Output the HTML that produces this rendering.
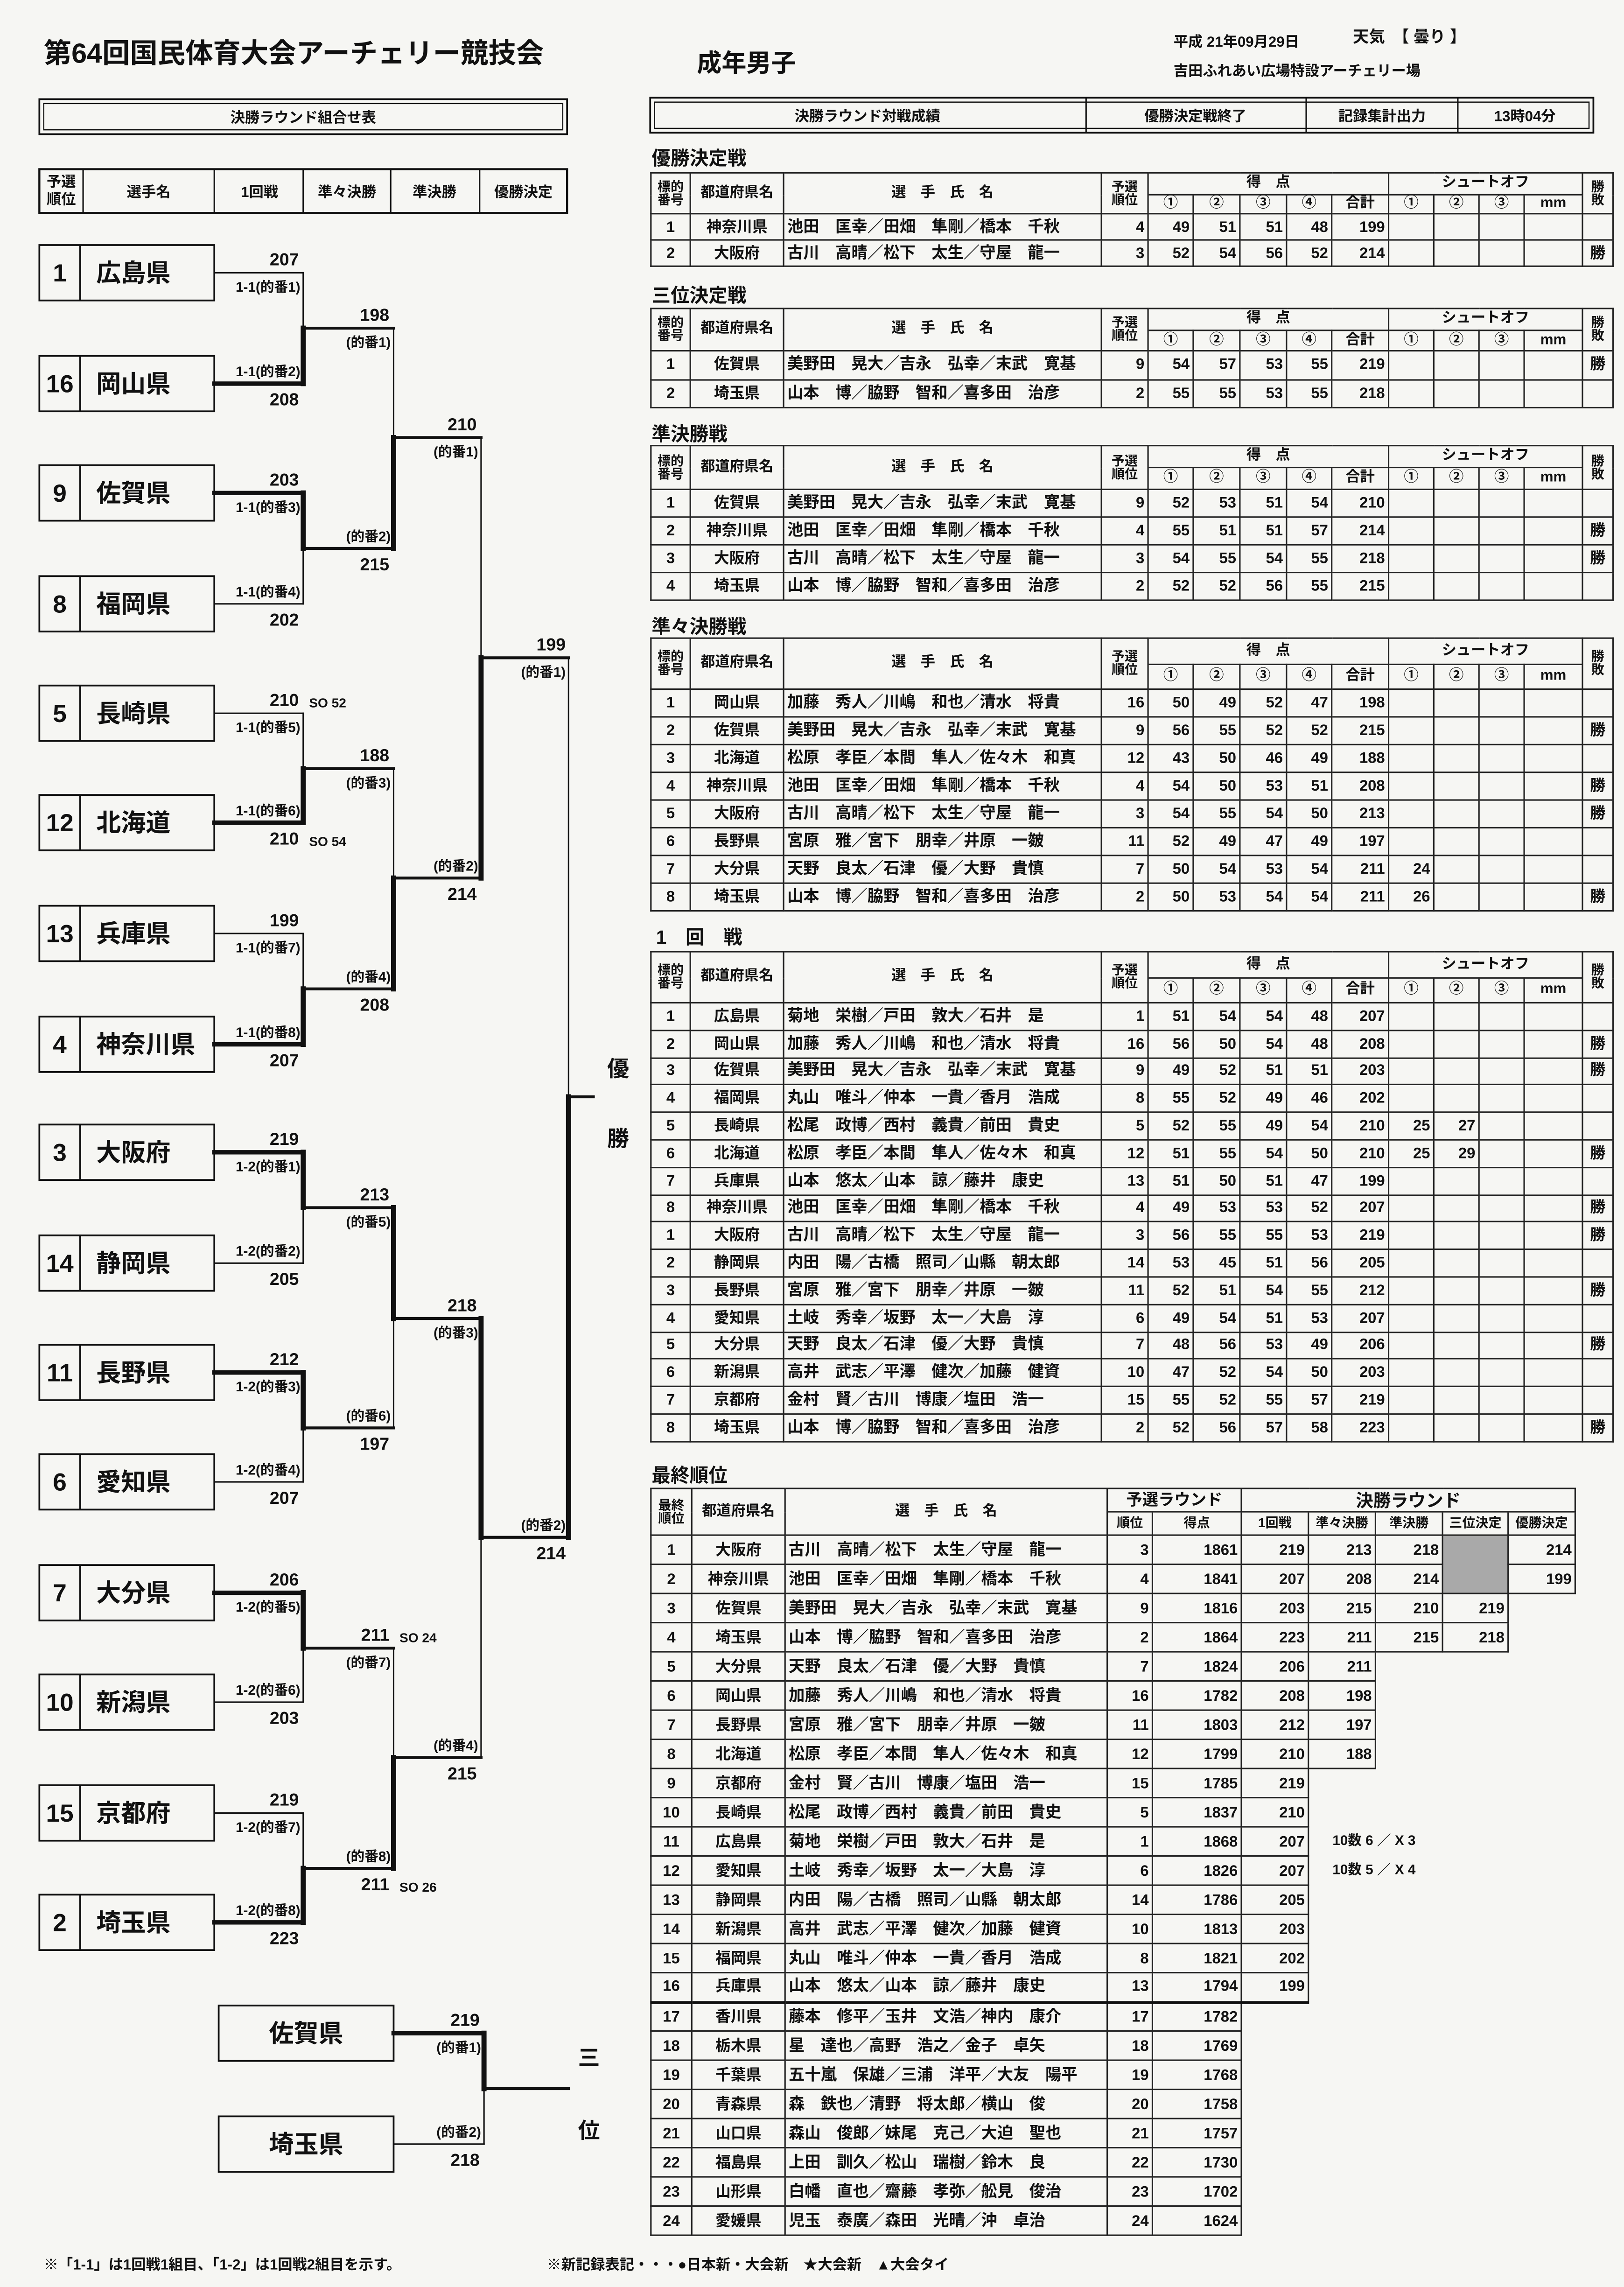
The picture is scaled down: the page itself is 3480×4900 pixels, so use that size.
<!DOCTYPE html>
<html><head><meta charset="utf-8">
<style>
html,body{margin:0;padding:0;background:#f6f6f3;}
body{width:3480px;height:4900px;overflow:hidden;position:relative;}
#p{position:absolute;left:0;top:0;width:1114px;height:1568px;transform:scale(3.1239,3.125);transform-origin:0 0;font-family:"Liberation Sans","Noto Sans CJK JP",sans-serif;color:#111;}
.a{position:absolute;white-space:nowrap;}
.ttl{font-size:13px;font-weight:bold;}
table.t{position:absolute;left:446px;border-collapse:collapse;table-layout:fixed;font-size:10.5px;line-height:10px;border:1.6px solid #111;}
.t td,.t th{border:1px solid #222;padding:0 2px;white-space:nowrap;overflow:visible;font-weight:bold;text-align:right;}
.t th{text-align:center;font-size:10px;line-height:10px;}
.t th.s{font-size:9px;line-height:9px;}
.t td:nth-child(1),.t td:nth-child(2){text-align:center;}
.t td:nth-child(3){text-align:left;font-size:11px;}
.t td:nth-child(14){text-align:center;}
.t td.n{border:none;}
.t td.g{background:#a9a9a9;}
.t td.nt{text-align:left;padding-left:16px;font-size:9.5px;}
.t tr.tb td{border-bottom:2px solid #111;}
.t tr.tb td.n{border-bottom:none;}
svg text{font-family:"Liberation Sans","Noto Sans CJK JP",sans-serif;}
</style></head><body><div id="p">

<div class="a" style="left:30px;top:22px;font-size:19px;font-weight:bold;">第64回国民体育大会アーチェリー競技会</div>
<div class="a" style="left:478px;top:29px;font-size:17px;font-weight:bold;">成年男子</div>
<div class="a" style="left:805px;top:20px;font-size:10px;font-weight:bold;">平成 21年09月29日</div>
<div class="a" style="left:928px;top:17px;font-size:11px;font-weight:bold;">天気　【 曇り 】</div>
<div class="a" style="left:805px;top:40px;font-size:10px;font-weight:bold;">吉田ふれあい広場特設アーチェリー場</div>

<svg class="a" style="left:0;top:0" width="1114" height="1568" viewBox="0 0 1114 1568">
<g fill="none" stroke="#111">
<rect x="27" y="68" width="362" height="24" stroke-width="1.2"/>
<rect x="30" y="71" width="356" height="18" stroke-width="0.8"/>
<rect x="446" y="67" width="647" height="24" stroke-width="1.2"/>
<rect x="449" y="70" width="641" height="18" stroke-width="0.8"/>
<line x1="745" y1="67" x2="745" y2="91"/><line x1="896" y1="67" x2="896" y2="91"/><line x1="1000" y1="67" x2="1000" y2="91"/>
<rect x="27" y="116" width="362" height="30" stroke-width="1.4"/>
<line x1="57" y1="116" x2="57" y2="146"/><line x1="147" y1="116" x2="147" y2="146"/><line x1="208" y1="116" x2="208" y2="146"/><line x1="268" y1="116" x2="268" y2="146"/><line x1="329" y1="116" x2="329" y2="146"/>
</g>
<g font-size="10" font-weight="bold" text-anchor="middle" fill="#111">
<text x="208" y="84">決勝ラウンド組合せ表</text>
<text x="595" y="83">決勝ラウンド対戦成績</text>
<text x="820" y="83">優勝決定戦終了</text>
<text x="948" y="83">記録集計出力</text>
<text x="1046" y="83">13時04分</text>
<text x="42" y="128">予選</text><text x="42" y="140">順位</text>
<text x="102" y="135">選手名</text><text x="178" y="135">1回戦</text><text x="238" y="135">準々決勝</text><text x="298" y="135">準決勝</text><text x="359" y="135">優勝決定</text>
</g>

<g fill="none" stroke="#111" stroke-width="1.2">
<rect x="27" y="168" width="120" height="38"/><line x1="55" y1="168" x2="55" y2="206"/>
<rect x="27" y="244" width="120" height="38"/><line x1="55" y1="244" x2="55" y2="282"/>
<rect x="27" y="319" width="120" height="38"/><line x1="55" y1="319" x2="55" y2="357"/>
<rect x="27" y="395" width="120" height="38"/><line x1="55" y1="395" x2="55" y2="433"/>
<rect x="27" y="470" width="120" height="38"/><line x1="55" y1="470" x2="55" y2="508"/>
<rect x="27" y="545" width="120" height="38"/><line x1="55" y1="545" x2="55" y2="583"/>
<rect x="27" y="621" width="120" height="38"/><line x1="55" y1="621" x2="55" y2="659"/>
<rect x="27" y="697" width="120" height="38"/><line x1="55" y1="697" x2="55" y2="735"/>
<rect x="27" y="771" width="120" height="38"/><line x1="55" y1="771" x2="55" y2="809"/>
<rect x="27" y="847" width="120" height="38"/><line x1="55" y1="847" x2="55" y2="885"/>
<rect x="27" y="922" width="120" height="38"/><line x1="55" y1="922" x2="55" y2="960"/>
<rect x="27" y="997" width="120" height="38"/><line x1="55" y1="997" x2="55" y2="1035"/>
<rect x="27" y="1073" width="120" height="38"/><line x1="55" y1="1073" x2="55" y2="1111"/>
<rect x="27" y="1148" width="120" height="38"/><line x1="55" y1="1148" x2="55" y2="1186"/>
<rect x="27" y="1224" width="120" height="38"/><line x1="55" y1="1224" x2="55" y2="1262"/>
<rect x="27" y="1299" width="120" height="38"/><line x1="55" y1="1299" x2="55" y2="1337"/>
<rect x="150" y="1375" width="120" height="38"/>
<rect x="150" y="1451" width="120" height="38"/>
</g>
<g font-size="17" font-weight="bold" fill="#111">
<g text-anchor="middle">
<text x="41" y="193">1</text><text x="41" y="269">16</text><text x="41" y="344">9</text><text x="41" y="420">8</text>
<text x="41" y="495">5</text><text x="41" y="570">12</text><text x="41" y="646">13</text><text x="41" y="722">4</text>
<text x="41" y="796">3</text><text x="41" y="872">14</text><text x="41" y="947">11</text><text x="41" y="1022">6</text>
<text x="41" y="1098">7</text><text x="41" y="1173">10</text><text x="41" y="1249">15</text><text x="41" y="1324">2</text>
<text x="210" y="1400">佐賀県</text><text x="210" y="1476">埼玉県</text>
</g>
<text x="66" y="193">広島県</text><text x="66" y="269">岡山県</text><text x="66" y="344">佐賀県</text><text x="66" y="420">福岡県</text>
<text x="66" y="495">長崎県</text><text x="66" y="570">北海道</text><text x="66" y="646">兵庫県</text><text x="66" y="722">神奈川県</text>
<text x="66" y="796">大阪府</text><text x="66" y="872">静岡県</text><text x="66" y="947">長野県</text><text x="66" y="1022">愛知県</text>
<text x="66" y="1098">大分県</text><text x="66" y="1173">新潟県</text><text x="66" y="1249">京都府</text><text x="66" y="1324">埼玉県</text>
</g>

<g stroke="#111" fill="none" stroke-linecap="square">
<g stroke-width="1">
<line x1="147" y1="187" x2="208" y2="187"/><line x1="147" y1="414" x2="208" y2="414"/><line x1="147" y1="489" x2="208" y2="489"/>
<line x1="147" y1="640" x2="208" y2="640"/><line x1="147" y1="866" x2="208" y2="866"/><line x1="147" y1="1016" x2="208" y2="1016"/>
<line x1="147" y1="1167" x2="208" y2="1167"/><line x1="147" y1="1243" x2="208" y2="1243"/>
<line x1="208" y1="187" x2="208" y2="225"/><line x1="208" y1="376" x2="208" y2="414"/><line x1="208" y1="489" x2="208" y2="527"/>
<line x1="208" y1="640" x2="208" y2="678"/><line x1="208" y1="828" x2="208" y2="866"/><line x1="208" y1="979" x2="208" y2="1016"/>
<line x1="208" y1="1130" x2="208" y2="1167"/><line x1="208" y1="1243" x2="208" y2="1281"/>
<line x1="270" y1="225" x2="270" y2="300"/><line x1="270" y1="527" x2="270" y2="602"/><line x1="270" y1="904" x2="270" y2="979"/><line x1="270" y1="1130" x2="270" y2="1205"/>
<line x1="330" y1="300" x2="330" y2="451"/><line x1="330" y1="1054" x2="330" y2="1205"/>
<line x1="390" y1="451" x2="390" y2="752"/>
<line x1="332" y1="1432" x2="332" y2="1470"/>
<line x1="270" y1="1470" x2="332" y2="1470"/>
</g>
<g stroke-width="3">
<line x1="147" y1="263" x2="208" y2="263"/><line x1="147" y1="338" x2="208" y2="338"/><line x1="147" y1="564" x2="208" y2="564"/>
<line x1="147" y1="716" x2="208" y2="716"/><line x1="147" y1="790" x2="208" y2="790"/><line x1="147" y1="941" x2="208" y2="941"/>
<line x1="147" y1="1092" x2="208" y2="1092"/><line x1="147" y1="1318" x2="208" y2="1318"/>
<line x1="270" y1="1394" x2="332" y2="1394"/>
</g>
<g stroke-width="3.5">
<line x1="208" y1="225" x2="208" y2="263"/><line x1="208" y1="338" x2="208" y2="376"/><line x1="208" y1="527" x2="208" y2="564"/>
<line x1="208" y1="678" x2="208" y2="716"/><line x1="208" y1="790" x2="208" y2="828"/><line x1="208" y1="941" x2="208" y2="979"/>
<line x1="208" y1="1092" x2="208" y2="1130"/><line x1="208" y1="1281" x2="208" y2="1318"/>
<line x1="270" y1="300" x2="270" y2="376"/><line x1="270" y1="602" x2="270" y2="678"/><line x1="270" y1="828" x2="270" y2="904"/><line x1="270" y1="1205" x2="270" y2="1281"/>
<line x1="330" y1="451" x2="330" y2="602"/><line x1="330" y1="904" x2="330" y2="1054"/>
<line x1="390" y1="752" x2="390" y2="1054"/>
<line x1="332" y1="1394" x2="332" y2="1432"/>
</g>
<g stroke-width="2">
<line x1="208" y1="225" x2="270" y2="225"/><line x1="208" y1="376" x2="270" y2="376"/><line x1="208" y1="527" x2="270" y2="527"/><line x1="208" y1="678" x2="270" y2="678"/>
<line x1="208" y1="828" x2="270" y2="828"/><line x1="208" y1="979" x2="270" y2="979"/><line x1="208" y1="1130" x2="270" y2="1130"/><line x1="208" y1="1281" x2="270" y2="1281"/>
<line x1="270" y1="300" x2="330" y2="300"/><line x1="270" y1="602" x2="330" y2="602"/><line x1="270" y1="904" x2="330" y2="904"/><line x1="270" y1="1205" x2="330" y2="1205"/>
<line x1="330" y1="451" x2="390" y2="451"/><line x1="330" y1="1054" x2="390" y2="1054"/>
<line x1="390" y1="752" x2="407" y2="752"/>
<line x1="332" y1="1432" x2="390" y2="1432"/>
</g>
</g>

<g font-size="12" font-weight="bold" fill="#111" text-anchor="end">
<text x="205" y="182">207</text><text x="205" y="278">208</text>
<text x="205" y="333">203</text><text x="205" y="429">202</text>
<text x="205" y="484">210</text><text x="205" y="579">210</text>
<text x="205" y="635">199</text><text x="205" y="731">207</text>
<text x="205" y="785">219</text><text x="205" y="881">205</text>
<text x="205" y="936">212</text><text x="205" y="1031">207</text>
<text x="205" y="1087">206</text><text x="205" y="1182">203</text>
<text x="205" y="1238">219</text><text x="205" y="1333">223</text>
<text x="267" y="220">198</text><text x="267" y="391">215</text><text x="267" y="522">188</text><text x="267" y="693">208</text>
<text x="267" y="823">213</text><text x="267" y="994">197</text><text x="267" y="1125">211</text><text x="267" y="1296">211</text>
<text x="327" y="295">210</text><text x="327" y="617">214</text><text x="327" y="899">218</text><text x="327" y="1220">215</text>
<text x="388" y="446">199</text><text x="388" y="1069">214</text>
<text x="329" y="1389">219</text><text x="329" y="1485">218</text>
</g>
<g font-size="9" font-weight="bold" fill="#111">
<text x="212" y="485">SO 52</text><text x="212" y="580">SO 54</text>
<text x="274" y="1126">SO 24</text><text x="274" y="1297">SO 26</text>
</g>
<g font-size="9.5" font-weight="bold" fill="#111" text-anchor="end">
<text x="206" y="200">1-1(的番1)</text><text x="206" y="258">1-1(的番2)</text>
<text x="206" y="351">1-1(的番3)</text><text x="206" y="409">1-1(的番4)</text>
<text x="206" y="502">1-1(的番5)</text><text x="206" y="559">1-1(的番6)</text>
<text x="206" y="653">1-1(的番7)</text><text x="206" y="711">1-1(的番8)</text>
<text x="206" y="803">1-2(的番1)</text><text x="206" y="861">1-2(的番2)</text>
<text x="206" y="954">1-2(的番3)</text><text x="206" y="1011">1-2(的番4)</text>
<text x="206" y="1105">1-2(的番5)</text><text x="206" y="1162">1-2(的番6)</text>
<text x="206" y="1256">1-2(的番7)</text><text x="206" y="1313">1-2(的番8)</text>
<text x="268" y="238">(的番1)</text><text x="268" y="371">(的番2)</text><text x="268" y="540">(的番3)</text><text x="268" y="673">(的番4)</text>
<text x="268" y="841">(的番5)</text><text x="268" y="974">(的番6)</text><text x="268" y="1143">(的番7)</text><text x="268" y="1276">(的番8)</text>
<text x="328" y="313">(的番1)</text><text x="328" y="597">(的番2)</text><text x="328" y="917">(的番3)</text><text x="328" y="1200">(的番4)</text>
<text x="388" y="464">(的番1)</text><text x="388" y="1049">(的番2)</text>
<text x="330" y="1407">(的番1)</text><text x="330" y="1465">(的番2)</text>
</g>
<g font-size="15" font-weight="bold" fill="#111" text-anchor="middle">
<text x="424" y="738">優</text><text x="424" y="786">勝</text>
<text x="404" y="1416">三</text><text x="404" y="1466">位</text>
</g>
<g font-size="10" font-weight="bold" fill="#111">
<text x="30" y="1556">※「1-1」は1回戦1組目、「1-2」は1回戦2組目を示す。</text>
<text x="375" y="1556">※新記録表記・・・●日本新・大会新　★大会新　▲大会タイ</text>
</g>
</svg>

<div class="a ttl" style="left:447px;top:98px;">優勝決定戦</div>
<div class="a ttl" style="left:447px;top:192px;">三位決定戦</div>
<div class="a ttl" style="left:447px;top:287px;">準決勝戦</div>
<div class="a ttl" style="left:447px;top:419px;">準々決勝戦</div>
<div class="a ttl" style="left:450px;top:632px;">1　回　戦</div>
<div class="a ttl" style="left:447px;top:1001px;">最終順位</div>

<table class="t" style="top:118px;width:660px;">
<colgroup><col style="width:27px"><col style="width:64px"><col style="width:218px"><col style="width:32px"><col style="width:31px"><col style="width:32px"><col style="width:32px"><col style="width:31px"><col style="width:39px"><col style="width:31px"><col style="width:31px"><col style="width:31px"><col style="width:40px"><col style="width:21px"></colgroup>
<tr style="height:15px"><th rowspan="2" class="s">標的<br>番号</th><th rowspan="2">都道府県名</th><th rowspan="2">選　手　氏　名</th><th rowspan="2" class="s">予選<br>順位</th><th colspan="5">得　点</th><th colspan="4">シュートオフ</th><th rowspan="2" class="s">勝<br>敗</th></tr>
<tr style="height:13px"><th>①</th><th>②</th><th>③</th><th>④</th><th>合計</th><th>①</th><th>②</th><th>③</th><th>mm</th></tr>
<tr style="height:18px"><td>1</td><td>神奈川県</td><td>池田　匡幸／田畑　隼剛／橋本　千秋</td><td>4</td><td>49</td><td>51</td><td>51</td><td>48</td><td>199</td><td></td><td></td><td></td><td></td><td></td></tr>
<tr style="height:18px"><td>2</td><td>大阪府</td><td>古川　高晴／松下　太生／守屋　龍一</td><td>3</td><td>52</td><td>54</td><td>56</td><td>52</td><td>214</td><td></td><td></td><td></td><td></td><td>勝</td></tr>
</table>

<table class="t" style="top:211px;width:660px;">
<colgroup><col style="width:27px"><col style="width:64px"><col style="width:218px"><col style="width:32px"><col style="width:31px"><col style="width:32px"><col style="width:32px"><col style="width:31px"><col style="width:39px"><col style="width:31px"><col style="width:31px"><col style="width:31px"><col style="width:40px"><col style="width:21px"></colgroup>
<tr style="height:15px"><th rowspan="2" class="s">標的<br>番号</th><th rowspan="2">都道府県名</th><th rowspan="2">選　手　氏　名</th><th rowspan="2" class="s">予選<br>順位</th><th colspan="5">得　点</th><th colspan="4">シュートオフ</th><th rowspan="2" class="s">勝<br>敗</th></tr>
<tr style="height:14px"><th>①</th><th>②</th><th>③</th><th>④</th><th>合計</th><th>①</th><th>②</th><th>③</th><th>mm</th></tr>
<tr style="height:19.5px"><td>1</td><td>佐賀県</td><td>美野田　晃大／吉永　弘幸／末武　寛基</td><td>9</td><td>54</td><td>57</td><td>53</td><td>55</td><td>219</td><td></td><td></td><td></td><td></td><td>勝</td></tr>
<tr style="height:19.5px"><td>2</td><td>埼玉県</td><td>山本　博／脇野　智和／喜多田　治彦</td><td>2</td><td>55</td><td>55</td><td>53</td><td>55</td><td>218</td><td></td><td></td><td></td><td></td><td></td></tr>
</table>

<table class="t" style="top:305px;width:660px;">
<colgroup><col style="width:27px"><col style="width:64px"><col style="width:218px"><col style="width:32px"><col style="width:31px"><col style="width:32px"><col style="width:32px"><col style="width:31px"><col style="width:39px"><col style="width:31px"><col style="width:31px"><col style="width:31px"><col style="width:40px"><col style="width:21px"></colgroup>
<tr style="height:15px"><th rowspan="2" class="s">標的<br>番号</th><th rowspan="2">都道府県名</th><th rowspan="2">選　手　氏　名</th><th rowspan="2" class="s">予選<br>順位</th><th colspan="5">得　点</th><th colspan="4">シュートオフ</th><th rowspan="2" class="s">勝<br>敗</th></tr>
<tr style="height:15px"><th>①</th><th>②</th><th>③</th><th>④</th><th>合計</th><th>①</th><th>②</th><th>③</th><th>mm</th></tr>
<tr style="height:19px"><td>1</td><td>佐賀県</td><td>美野田　晃大／吉永　弘幸／末武　寛基</td><td>9</td><td>52</td><td>53</td><td>51</td><td>54</td><td>210</td><td></td><td></td><td></td><td></td><td></td></tr>
<tr style="height:19px"><td>2</td><td>神奈川県</td><td>池田　匡幸／田畑　隼剛／橋本　千秋</td><td>4</td><td>55</td><td>51</td><td>51</td><td>57</td><td>214</td><td></td><td></td><td></td><td></td><td>勝</td></tr>
<tr style="height:19px"><td>3</td><td>大阪府</td><td>古川　高晴／松下　太生／守屋　龍一</td><td>3</td><td>54</td><td>55</td><td>54</td><td>55</td><td>218</td><td></td><td></td><td></td><td></td><td>勝</td></tr>
<tr style="height:19px"><td>4</td><td>埼玉県</td><td>山本　博／脇野　智和／喜多田　治彦</td><td>2</td><td>52</td><td>52</td><td>56</td><td>55</td><td>215</td><td></td><td></td><td></td><td></td><td></td></tr>
</table>

<table class="t" style="top:437px;width:660px;">
<colgroup><col style="width:27px"><col style="width:64px"><col style="width:218px"><col style="width:32px"><col style="width:31px"><col style="width:32px"><col style="width:32px"><col style="width:31px"><col style="width:39px"><col style="width:31px"><col style="width:31px"><col style="width:31px"><col style="width:40px"><col style="width:21px"></colgroup>
<tr style="height:18px"><th rowspan="2" class="s">標的<br>番号</th><th rowspan="2">都道府県名</th><th rowspan="2">選　手　氏　名</th><th rowspan="2" class="s">予選<br>順位</th><th colspan="5">得　点</th><th colspan="4">シュートオフ</th><th rowspan="2" class="s">勝<br>敗</th></tr>
<tr style="height:17px"><th>①</th><th>②</th><th>③</th><th>④</th><th>合計</th><th>①</th><th>②</th><th>③</th><th>mm</th></tr>
<tr style="height:19px"><td>1</td><td>岡山県</td><td>加藤　秀人／川嶋　和也／清水　将貴</td><td>16</td><td>50</td><td>49</td><td>52</td><td>47</td><td>198</td><td></td><td></td><td></td><td></td><td></td></tr>
<tr style="height:19px"><td>2</td><td>佐賀県</td><td>美野田　晃大／吉永　弘幸／末武　寛基</td><td>9</td><td>56</td><td>55</td><td>52</td><td>52</td><td>215</td><td></td><td></td><td></td><td></td><td>勝</td></tr>
<tr style="height:19px"><td>3</td><td>北海道</td><td>松原　孝臣／本間　隼人／佐々木　和真</td><td>12</td><td>43</td><td>50</td><td>46</td><td>49</td><td>188</td><td></td><td></td><td></td><td></td><td></td></tr>
<tr style="height:19px"><td>4</td><td>神奈川県</td><td>池田　匡幸／田畑　隼剛／橋本　千秋</td><td>4</td><td>54</td><td>50</td><td>53</td><td>51</td><td>208</td><td></td><td></td><td></td><td></td><td>勝</td></tr>
<tr style="height:19px"><td>5</td><td>大阪府</td><td>古川　高晴／松下　太生／守屋　龍一</td><td>3</td><td>54</td><td>55</td><td>54</td><td>50</td><td>213</td><td></td><td></td><td></td><td></td><td>勝</td></tr>
<tr style="height:19px"><td>6</td><td>長野県</td><td>宮原　雅／宮下　朋幸／井原　一皴</td><td>11</td><td>52</td><td>49</td><td>47</td><td>49</td><td>197</td><td></td><td></td><td></td><td></td><td></td></tr>
<tr style="height:19px"><td>7</td><td>大分県</td><td>天野　良太／石津　優／大野　貴慎</td><td>7</td><td>50</td><td>54</td><td>53</td><td>54</td><td>211</td><td>24</td><td></td><td></td><td></td><td></td></tr>
<tr style="height:19px"><td>8</td><td>埼玉県</td><td>山本　博／脇野　智和／喜多田　治彦</td><td>2</td><td>50</td><td>53</td><td>54</td><td>54</td><td>211</td><td>26</td><td></td><td></td><td></td><td>勝</td></tr>
</table>

<table class="t" style="top:652px;width:660px;">
<colgroup><col style="width:27px"><col style="width:64px"><col style="width:218px"><col style="width:32px"><col style="width:31px"><col style="width:32px"><col style="width:32px"><col style="width:31px"><col style="width:39px"><col style="width:31px"><col style="width:31px"><col style="width:31px"><col style="width:40px"><col style="width:21px"></colgroup>
<tr style="height:18px"><th rowspan="2" class="s">標的<br>番号</th><th rowspan="2">都道府県名</th><th rowspan="2">選　手　氏　名</th><th rowspan="2" class="s">予選<br>順位</th><th colspan="5">得　点</th><th colspan="4">シュートオフ</th><th rowspan="2" class="s">勝<br>敗</th></tr>
<tr style="height:17px"><th>①</th><th>②</th><th>③</th><th>④</th><th>合計</th><th>①</th><th>②</th><th>③</th><th>mm</th></tr>
<tr style="height:18.8px"><td>1</td><td>広島県</td><td>菊地　栄樹／戸田　敦大／石井　是</td><td>1</td><td>51</td><td>54</td><td>54</td><td>48</td><td>207</td><td></td><td></td><td></td><td></td><td></td></tr>
<tr style="height:18.8px"><td>2</td><td>岡山県</td><td>加藤　秀人／川嶋　和也／清水　将貴</td><td>16</td><td>56</td><td>50</td><td>54</td><td>48</td><td>208</td><td></td><td></td><td></td><td></td><td>勝</td></tr>
<tr style="height:18.8px"><td>3</td><td>佐賀県</td><td>美野田　晃大／吉永　弘幸／末武　寛基</td><td>9</td><td>49</td><td>52</td><td>51</td><td>51</td><td>203</td><td></td><td></td><td></td><td></td><td>勝</td></tr>
<tr style="height:18.8px"><td>4</td><td>福岡県</td><td>丸山　唯斗／仲本　一貴／香月　浩成</td><td>8</td><td>55</td><td>52</td><td>49</td><td>46</td><td>202</td><td></td><td></td><td></td><td></td><td></td></tr>
<tr style="height:18.8px"><td>5</td><td>長崎県</td><td>松尾　政博／西村　義貴／前田　貴史</td><td>5</td><td>52</td><td>55</td><td>49</td><td>54</td><td>210</td><td>25</td><td>27</td><td></td><td></td><td></td></tr>
<tr style="height:18.8px"><td>6</td><td>北海道</td><td>松原　孝臣／本間　隼人／佐々木　和真</td><td>12</td><td>51</td><td>55</td><td>54</td><td>50</td><td>210</td><td>25</td><td>29</td><td></td><td></td><td>勝</td></tr>
<tr style="height:18.8px"><td>7</td><td>兵庫県</td><td>山本　悠太／山本　諒／藤井　康史</td><td>13</td><td>51</td><td>50</td><td>51</td><td>47</td><td>199</td><td></td><td></td><td></td><td></td><td></td></tr>
<tr style="height:18.8px"><td>8</td><td>神奈川県</td><td>池田　匡幸／田畑　隼剛／橋本　千秋</td><td>4</td><td>49</td><td>53</td><td>53</td><td>52</td><td>207</td><td></td><td></td><td></td><td></td><td>勝</td></tr>
<tr style="height:18.8px"><td>1</td><td>大阪府</td><td>古川　高晴／松下　太生／守屋　龍一</td><td>3</td><td>56</td><td>55</td><td>55</td><td>53</td><td>219</td><td></td><td></td><td></td><td></td><td>勝</td></tr>
<tr style="height:18.8px"><td>2</td><td>静岡県</td><td>内田　陽／古橋　照司／山縣　朝太郎</td><td>14</td><td>53</td><td>45</td><td>51</td><td>56</td><td>205</td><td></td><td></td><td></td><td></td><td></td></tr>
<tr style="height:18.8px"><td>3</td><td>長野県</td><td>宮原　雅／宮下　朋幸／井原　一皴</td><td>11</td><td>52</td><td>51</td><td>54</td><td>55</td><td>212</td><td></td><td></td><td></td><td></td><td>勝</td></tr>
<tr style="height:18.8px"><td>4</td><td>愛知県</td><td>土岐　秀幸／坂野　太一／大島　淳</td><td>6</td><td>49</td><td>54</td><td>51</td><td>53</td><td>207</td><td></td><td></td><td></td><td></td><td></td></tr>
<tr style="height:18.8px"><td>5</td><td>大分県</td><td>天野　良太／石津　優／大野　貴慎</td><td>7</td><td>48</td><td>56</td><td>53</td><td>49</td><td>206</td><td></td><td></td><td></td><td></td><td>勝</td></tr>
<tr style="height:18.8px"><td>6</td><td>新潟県</td><td>高井　武志／平澤　健次／加藤　健資</td><td>10</td><td>47</td><td>52</td><td>54</td><td>50</td><td>203</td><td></td><td></td><td></td><td></td><td></td></tr>
<tr style="height:18.8px"><td>7</td><td>京都府</td><td>金村　賢／古川　博康／塩田　浩一</td><td>15</td><td>55</td><td>52</td><td>55</td><td>57</td><td>219</td><td></td><td></td><td></td><td></td><td></td></tr>
<tr style="height:18.8px"><td>8</td><td>埼玉県</td><td>山本　博／脇野　智和／喜多田　治彦</td><td>2</td><td>52</td><td>56</td><td>57</td><td>58</td><td>223</td><td></td><td></td><td></td><td></td><td>勝</td></tr>
</table>

<table class="t" style="top:1020px;width:634px;border:none;">
<colgroup><col style="width:28px"><col style="width:64px"><col style="width:221px"><col style="width:31px"><col style="width:61px"><col style="width:46px"><col style="width:46px"><col style="width:46px"><col style="width:45px"><col style="width:46px"></colgroup>
<tr style="height:16px"><th rowspan="2" class="s">最終<br>順位</th><th rowspan="2">都道府県名</th><th rowspan="2">選　手　氏　名</th><th colspan="2" style="font-size:11px">予選ラウンド</th><th colspan="5" style="font-size:12px">決勝ラウンド</th></tr>
<tr style="height:16px"><th class="s">順位</th><th class="s">得点</th><th class="s">1回戦</th><th class="s">準々決勝</th><th class="s">準決勝</th><th class="s">三位決定</th><th class="s">優勝決定</th></tr>
<tr style="height:20px"><td>1</td><td>大阪府</td><td>古川　高晴／松下　太生／守屋　龍一</td><td>3</td><td>1861</td><td>219</td><td>213</td><td>218</td><td class="g" rowspan="2"></td><td>214</td></tr>
<tr style="height:20px"><td>2</td><td>神奈川県</td><td>池田　匡幸／田畑　隼剛／橋本　千秋</td><td>4</td><td>1841</td><td>207</td><td>208</td><td>214</td><td>199</td></tr>
<tr style="height:20px"><td>3</td><td>佐賀県</td><td>美野田　晃大／吉永　弘幸／末武　寛基</td><td>9</td><td>1816</td><td>203</td><td>215</td><td>210</td><td>219</td><td class="n"></td></tr>
<tr style="height:20px"><td>4</td><td>埼玉県</td><td>山本　博／脇野　智和／喜多田　治彦</td><td>2</td><td>1864</td><td>223</td><td>211</td><td>215</td><td>218</td><td class="n"></td></tr>
<tr style="height:20px"><td>5</td><td>大分県</td><td>天野　良太／石津　優／大野　貴慎</td><td>7</td><td>1824</td><td>206</td><td>211</td><td class="n"></td><td class="n"></td><td class="n"></td></tr>
<tr style="height:20px"><td>6</td><td>岡山県</td><td>加藤　秀人／川嶋　和也／清水　将貴</td><td>16</td><td>1782</td><td>208</td><td>198</td><td class="n"></td><td class="n"></td><td class="n"></td></tr>
<tr style="height:20px"><td>7</td><td>長野県</td><td>宮原　雅／宮下　朋幸／井原　一皴</td><td>11</td><td>1803</td><td>212</td><td>197</td><td class="n"></td><td class="n"></td><td class="n"></td></tr>
<tr style="height:20px"><td>8</td><td>北海道</td><td>松原　孝臣／本間　隼人／佐々木　和真</td><td>12</td><td>1799</td><td>210</td><td>188</td><td class="n"></td><td class="n"></td><td class="n"></td></tr>
<tr style="height:20px"><td>9</td><td>京都府</td><td>金村　賢／古川　博康／塩田　浩一</td><td>15</td><td>1785</td><td>219</td><td class="n"></td><td class="n"></td><td class="n"></td><td class="n"></td></tr>
<tr style="height:20px"><td>10</td><td>長崎県</td><td>松尾　政博／西村　義貴／前田　貴史</td><td>5</td><td>1837</td><td>210</td><td class="n"></td><td class="n"></td><td class="n"></td><td class="n"></td></tr>
<tr style="height:20px"><td>11</td><td>広島県</td><td>菊地　栄樹／戸田　敦大／石井　是</td><td>1</td><td>1868</td><td>207</td><td class="n nt">10数 6 ／ X 3</td><td class="n"></td><td class="n"></td><td class="n"></td></tr>
<tr style="height:20px"><td>12</td><td>愛知県</td><td>土岐　秀幸／坂野　太一／大島　淳</td><td>6</td><td>1826</td><td>207</td><td class="n nt">10数 5 ／ X 4</td><td class="n"></td><td class="n"></td><td class="n"></td></tr>
<tr style="height:20px"><td>13</td><td>静岡県</td><td>内田　陽／古橋　照司／山縣　朝太郎</td><td>14</td><td>1786</td><td>205</td><td class="n"></td><td class="n"></td><td class="n"></td><td class="n"></td></tr>
<tr style="height:20px"><td>14</td><td>新潟県</td><td>高井　武志／平澤　健次／加藤　健資</td><td>10</td><td>1813</td><td>203</td><td class="n"></td><td class="n"></td><td class="n"></td><td class="n"></td></tr>
<tr style="height:20px"><td>15</td><td>福岡県</td><td>丸山　唯斗／仲本　一貴／香月　浩成</td><td>8</td><td>1821</td><td>202</td><td class="n"></td><td class="n"></td><td class="n"></td><td class="n"></td></tr>
<tr class="tb" style="height:20px"><td>16</td><td>兵庫県</td><td>山本　悠太／山本　諒／藤井　康史</td><td>13</td><td>1794</td><td>199</td><td class="n"></td><td class="n"></td><td class="n"></td><td class="n"></td></tr>
<tr style="height:20px"><td>17</td><td>香川県</td><td>藤本　修平／玉井　文浩／神内　康介</td><td>17</td><td>1782</td><td class="n"></td><td class="n"></td><td class="n"></td><td class="n"></td><td class="n"></td></tr>
<tr style="height:20px"><td>18</td><td>栃木県</td><td>星　達也／高野　浩之／金子　卓矢</td><td>18</td><td>1769</td><td class="n"></td><td class="n"></td><td class="n"></td><td class="n"></td><td class="n"></td></tr>
<tr style="height:20px"><td>19</td><td>千葉県</td><td>五十嵐　保雄／三浦　洋平／大友　陽平</td><td>19</td><td>1768</td><td class="n"></td><td class="n"></td><td class="n"></td><td class="n"></td><td class="n"></td></tr>
<tr style="height:20px"><td>20</td><td>青森県</td><td>森　鉄也／清野　将太郎／横山　俊</td><td>20</td><td>1758</td><td class="n"></td><td class="n"></td><td class="n"></td><td class="n"></td><td class="n"></td></tr>
<tr style="height:20px"><td>21</td><td>山口県</td><td>森山　俊郎／妹尾　克己／大迫　聖也</td><td>21</td><td>1757</td><td class="n"></td><td class="n"></td><td class="n"></td><td class="n"></td><td class="n"></td></tr>
<tr style="height:20px"><td>22</td><td>福島県</td><td>上田　訓久／松山　瑞樹／鈴木　良</td><td>22</td><td>1730</td><td class="n"></td><td class="n"></td><td class="n"></td><td class="n"></td><td class="n"></td></tr>
<tr style="height:20px"><td>23</td><td>山形県</td><td>白幡　直也／齋藤　孝弥／舩見　俊治</td><td>23</td><td>1702</td><td class="n"></td><td class="n"></td><td class="n"></td><td class="n"></td><td class="n"></td></tr>
<tr style="height:20px"><td>24</td><td>愛媛県</td><td>児玉　泰廣／森田　光晴／沖　卓治</td><td>24</td><td>1624</td><td class="n"></td><td class="n"></td><td class="n"></td><td class="n"></td><td class="n"></td></tr>
</table>

</div></body></html>
